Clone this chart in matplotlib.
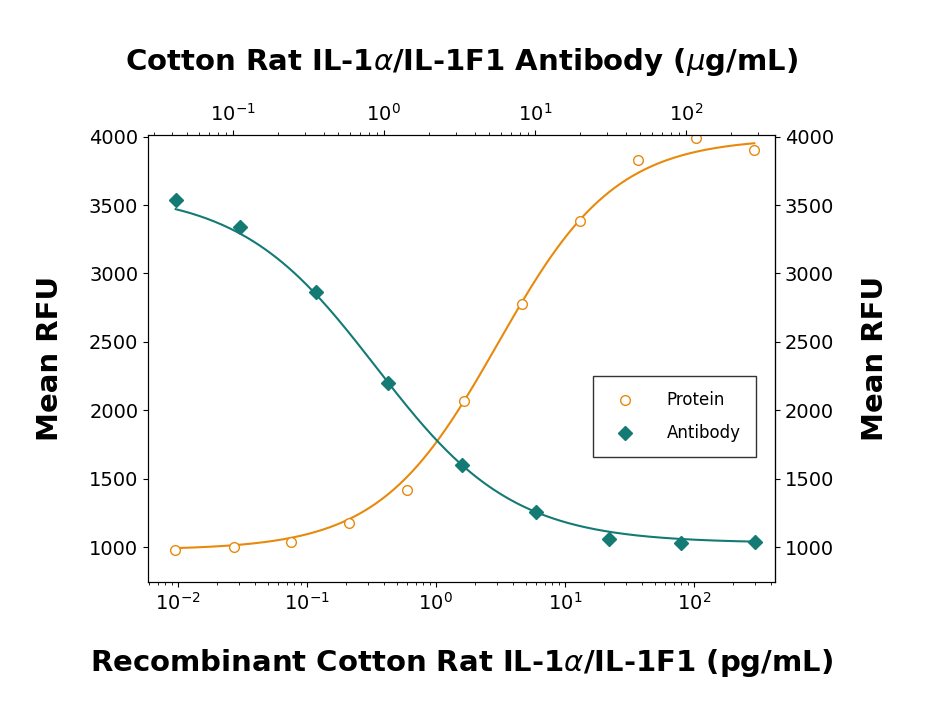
import numpy as np
import matplotlib
matplotlib.use("Agg")
import matplotlib.pyplot as plt

plt.rcParams["font.family"] = "DejaVu Sans"

protein_x = [0.0095, 0.0275, 0.076, 0.214, 0.6, 1.66, 4.7, 13.2, 37, 105, 295]
protein_y = [977, 1000, 1035, 1175, 1420, 2065, 2780, 3380, 3830, 3990, 3905]
antibody_x = [0.042, 0.112, 0.355, 1.07, 3.3, 10.2, 31, 93, 288]
antibody_y = [3535, 3340, 2865, 2200, 1600, 1260, 1060, 1030, 1040]

orange = "#E8890C"
teal = "#137A74"

fig = plt.figure(figsize=(9.29, 7.17), dpi=100)
ax = fig.add_axes([148/929, 1-582/717, 627/929, 447/717])
ax.set_xscale("log")
ax.set_xlim(10**-2.23, 10**2.63)
ax.set_ylim(745, 4012)
ax.set_yticks(range(1000, 4001, 500))

xc = np.logspace(np.log10(protein_x[0]), np.log10(protein_x[-1]), 300)
yc = 980 + (3990 - 980) / (1 + 10**(0.95 * (0.48 - np.log10(xc))))
ax.plot(xc, yc, color=orange, lw=1.5)
ax.plot(protein_x, protein_y, "o", mfc="white", mec=orange, ms=7, mew=1, label="Protein")

ax2 = ax.twiny()
ax2.set_xscale("log")
ax2.set_xlim(10**-1.56, 10**2.59)
xa = np.logspace(np.log10(antibody_x[0]), np.log10(antibody_x[-1]), 300)
ya = 1030 + (3600 - 1030) / (1 + 10**(0.96 * (np.log10(xa) + 0.05)))
ax2.plot(xa, ya, color=teal, lw=1.5)
ax2.plot(antibody_x, antibody_y, "D", color=teal, ms=7, label="Antibody")

for a in (ax, ax2):
    a.tick_params(labelsize=14, direction="out")
ax.tick_params(axis="y", right=True, labelright=True)
ax.set_ylabel("Mean RFU", fontsize=21, fontweight="bold", labelpad=18)
sec = ax.secondary_yaxis("right")
sec.set_yticks([])
sec.set_ylabel("Mean RFU", fontsize=21, fontweight="bold", labelpad=62)
ax.set_xlabel("Recombinant Cotton Rat IL-1$\\alpha$/IL-1F1 (pg/mL)", fontsize=21, fontweight="bold", labelpad=24)
ax2.set_xlabel("Cotton Rat IL-1$\\alpha$/IL-1F1 Antibody ($\\mu$g/mL)", fontsize=21, fontweight="bold", labelpad=24)

h1, l1 = ax.get_legend_handles_labels()
h2, l2 = ax2.get_legend_handles_labels()
leg = ax2.legend(h1 + h2, l1 + l2, loc="upper left", bbox_to_anchor=((585-148)/627, (582-368)/447),
                 fontsize=12, frameon=True, fancybox=False, edgecolor="black", borderpad=0.9,
                 labelspacing=0.9, handletextpad=1.5)
leg.get_frame().set_linewidth(1)

fig.savefig("out.png", dpi=100)
